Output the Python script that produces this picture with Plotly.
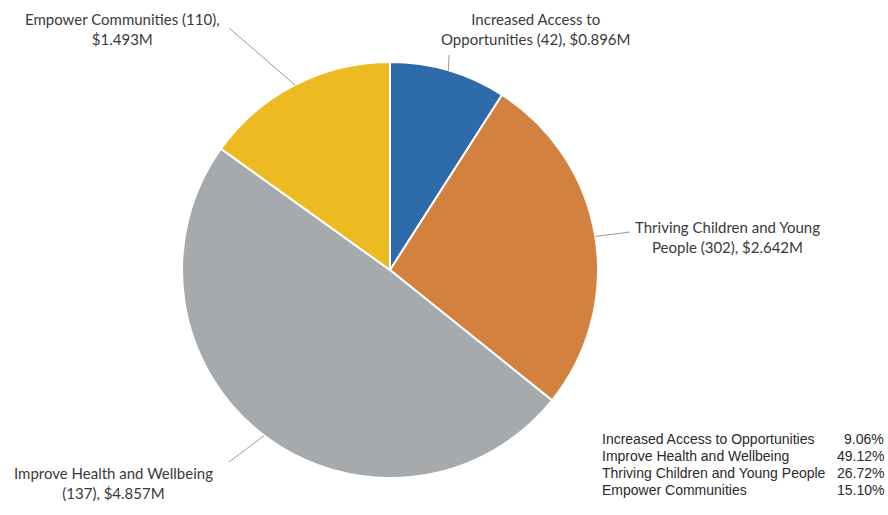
import math
import plotly.graph_objects as go

# ---- data ----
categories = ["Increased Access to Opportunities", "Thriving Children and Young People",
              "Improve Health and Wellbeing", "Empower Communities"]
counts = [42, 302, 137, 110]
amounts_m = [0.896, 2.642, 4.857, 1.493]
colors = ["#2E6BAA", "#D3813F", "#A7AAAD", "#EDBA22"]

table_labels = ["Increased Access to Opportunities", "Improve Health and Wellbeing",
                "Thriving Children and Young People", "Empower Communities"]
table_pcts = ["9.06%", "49.12%", "26.72%", "15.10%"]

W, H = 888, 515

def px(x):
    return x / W

def py(y):
    return 1 - y / H

# pie placement in pixels
cx, cy, r = 390, 270, 208

fig = go.Figure()
fig.add_trace(go.Pie(
    labels=categories, values=amounts_m, sort=False, direction="clockwise", rotation=0,
    marker=dict(colors=colors, line=dict(color="white", width=2)),
    textinfo="none", hoverinfo="label+value+percent", showlegend=False,
    domain=dict(x=[px(cx - r), px(cx + r)], y=[py(cy + r), py(cy - r)]),
))

# label text positions (pixels) and leader-line outer ends
label_pos = [(535, 29), (727, 237), (113, 483), (122, 29)]
line_outer = [(449, 55), (630, 232), (229, 462), (229, 28)]
label_text = [
    "Increased Access to<br>Opportunities ({c}), ${a:.3f}M",
    "Thriving Children and Young<br>People ({c}), ${a:.3f}M",
    "Improve Health and Wellbeing<br>({c}), ${a:.3f}M",
    "Empower Communities ({c}),<br>${a:.3f}M",
]

total = sum(amounts_m)
cum = 0.0
shapes = []
annotations = []
for i, v in enumerate(amounts_m):
    mid = (cum + v / 2) / total
    cum += v
    ang = 2 * math.pi * mid
    ex = cx + r * math.sin(ang)
    ey = cy - r * math.cos(ang)
    ox, oy = line_outer[i]
    shapes.append(dict(type="line", xref="paper", yref="paper",
                       x0=px(ox), y0=py(oy), x1=px(ex), y1=py(ey),
                       line=dict(color="#9a9a9a", width=1)))
    lx, ly = label_pos[i]
    annotations.append(dict(
        x=px(lx), y=py(ly), xref="paper", yref="paper", showarrow=False,
        text=label_text[i].format(c=counts[i], a=amounts_m[i]),
        align="center", xanchor="center", yanchor="middle",
        font=dict(family="Lato", size=15, color="#3a3a3a"),
    ))

# percentage table
row_y = [439, 456, 473, 490]
for lab, pct, yy in zip(table_labels, table_pcts, row_y):
    annotations.append(dict(x=px(600), y=py(yy), xref="paper", yref="paper",
                            showarrow=False, text=lab, xanchor="left", yanchor="middle",
                            font=dict(family="Liberation Sans", size=14, color="#2a2a2a")))
    annotations.append(dict(x=px(886), y=py(yy), xref="paper", yref="paper",
                            showarrow=False, text=pct, xanchor="right", yanchor="middle",
                            font=dict(family="Liberation Sans", size=14, color="#2a2a2a")))

fig.update_layout(
    width=W, height=H, margin=dict(l=0, r=0, t=0, b=0),
    paper_bgcolor="white", plot_bgcolor="white",
    shapes=shapes, annotations=annotations,
)

fig.write_html("out.html")
